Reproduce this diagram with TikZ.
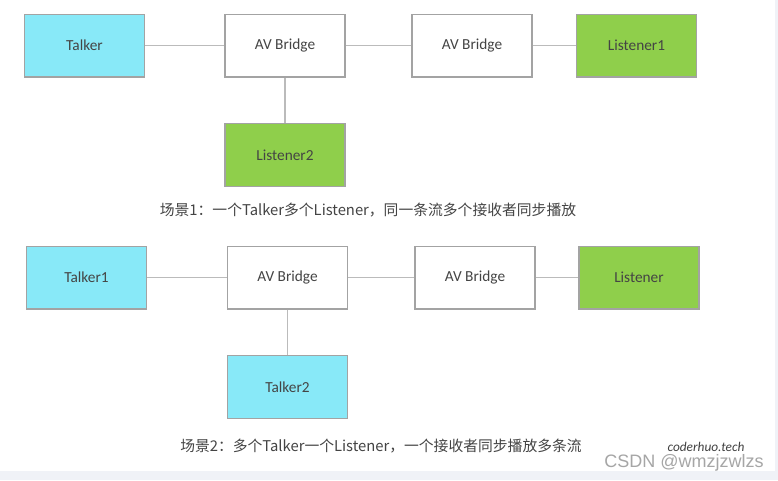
\documentclass[tikz,border=0pt]{standalone}
\usepackage{fontspec}
\setmainfont{Carlito}
\newfontfamily\cjk{Noto Sans CJK SC}
\newfontfamily\wmfont{Liberation Sans}
\definecolor{talkercol}{HTML}{88E9F8}
\definecolor{listenercol}{HTML}{8FCF4B}
\definecolor{boxline}{HTML}{A3A3A3}
\definecolor{linkline}{HTML}{BBBBBB}
\definecolor{textcol}{HTML}{444444}
\definecolor{bandcol}{HTML}{F0F2F7}
\begin{document}
\begin{tikzpicture}[
    x=0.75pt, y=-0.75pt,
    box/.style={rectangle, draw=boxline, line width=1pt, minimum width=90pt, minimum height=47pt, font=\fontsize{11.5}{13}\selectfont, text=textcol},
    talker/.style={box, fill=talkercol},
    listener/.style={box, fill=listenercol},
    bridge/.style={box, fill=white},
    link/.style={draw=linkline, line width=0.9pt},
    caption/.style={font=\cjk\fontsize{11.1}{13}\selectfont, text=textcol}
]

% page and margins
\fill[white] (0,0) rectangle (778,480);
\fill[bandcol] (0,471) rectangle (778,480);
\fill[bandcol] (775,0) rectangle (778,480);
\useasboundingbox (0,0) rectangle (778,480);

% Scenario 1 (top)
\node[talker] (talker) at (84.5, 45.5) {Talker};
\node[bridge] (bridgeA) at (285, 45.5) {AV Bridge};
\node[bridge] (bridgeB) at (472, 45.5) {AV Bridge};
\node[listener] (listenerA) at (636.5, 45.5) {Listener1};
\node[listener] (listenerB) at (285, 155) {Listener2};
\node[caption] (capA) at (368, 210) {场景1：一个Talker多个Listener，同一条流多个接收者同步播放};

\draw[link] (talker) -- (bridgeA);
\draw[link] (bridgeA) -- (bridgeB);
\draw[link] (bridgeB) -- (listenerA);
\draw[link] (bridgeA) -- (listenerB);

% Scenario 2 (bottom)
\node[talker] (talkerA) at (86.5, 277.5) {Talker1};
\node[bridge] (bridgeC) at (287.5, 277.5) {AV Bridge};
\node[bridge] (bridgeD) at (475, 277.5) {AV Bridge};
\node[listener] (listenerC) at (639, 277.5) {Listener};
\node[talker] (talkerB) at (287.5, 387) {Talker2};
\node[caption] (capB) at (381, 446) {场景2：多个Talker一个Listener，一个接收者同步播放多条流};

\draw[link] (talkerA) -- (bridgeC);
\draw[link] (bridgeC) -- (bridgeD);
\draw[link] (bridgeD) -- (listenerC);
\draw[link] (bridgeC) -- (talkerB);

% watermark
\node[font=\wmfont\fontsize{13.5}{15}\selectfont, text=gray!70] (wmA) at (684, 463) {CSDN @wmzjzwlzs};
\node[font=\itshape\fontsize{10}{12}\selectfont, text=black!75] (wmB) at (706, 447) {coderhuo.tech};

\end{tikzpicture}
\end{document}
